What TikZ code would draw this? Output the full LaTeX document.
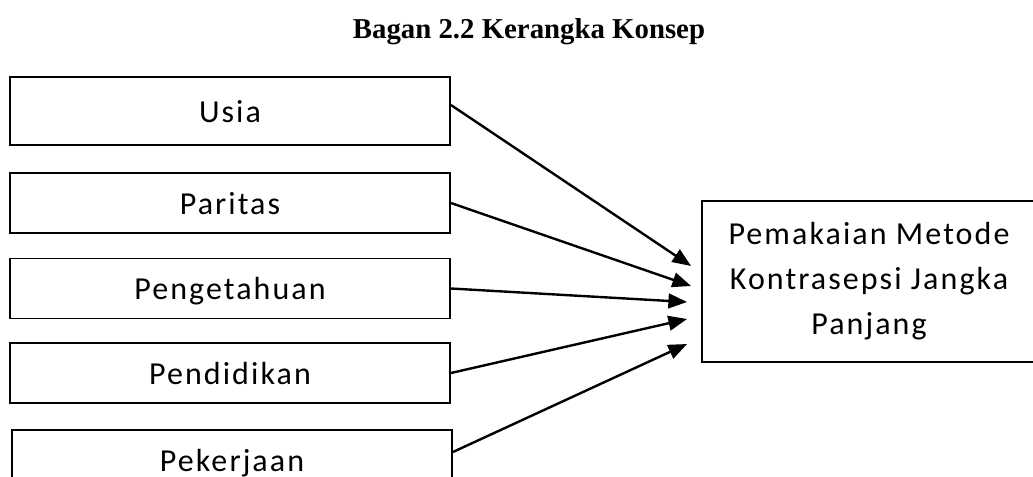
\documentclass[tikz,border=0pt]{standalone}
\usepackage{fontspec}
\setmainfont{Liberation Serif}
\newfontfamily\boxfont[LetterSpace=6.5]{Carlito}
\usetikzlibrary{arrows.meta,calc}
\tikzset{
    varbox/.style={draw,line width=1.4pt,minimum width=330pt,minimum height=45pt,
        inner sep=0pt,font=\boxfont\fontsize{24}{33.75}\selectfont},
    kiri/.style={varbox,text height=16.5pt,text depth=0pt},
    panah/.style={line width=1.8pt,-{Triangle[length=14pt,width=11pt]}}
}
\begin{document}
\begin{tikzpicture}[x=0.75pt,y=-0.75pt]
        \useasboundingbox (0,0) rectangle (1033,476);
        %% Judul
        \node[font=\bfseries\fontsize{21.6}{26}\selectfont,anchor=base] (judul) at (529,38)
            {Bagan 2.2 Kerangka Konsep};
        %% Variabel bebas
        \node[kiri,minimum height=51pt] (usia) at (230,111) {Usia};
        \node[kiri] (paritas) at (230,203) {Paritas};
        \node[kiri] (tahu) at (230,288.5) {Pengetahuan};
        \node[kiri] (didik) at (230,373) {Pendidikan};
        \node[kiri] (kerja) at (232,460) {Pekerjaan};
        %% Variabel terikat
        \node[varbox,minimum width=250.5pt,minimum height=120.75pt,align=center] (mkjp) at (869,281.5)
            {Pemakaian Metode\\Kontrasepsi Jangka\\Panjang};
        %% Panah
        \draw[panah] ($(usia.east)+(0,-6)$) -- ($(mkjp.west)+(-10,-15.5)$);
        \draw[panah] (paritas.east) -- ($(mkjp.west)+(-10,4.5)$);
        \draw[panah] (tahu.east) -- ($(mkjp.west)+(-14,20.5)$);
        \draw[panah] (didik.east) -- ($(mkjp.west)+(-14,37.5)$);
        \draw[panah] ($(kerja.east)+(0,-8)$) -- ($(mkjp.west)+(-14,62.5)$);
    \end{tikzpicture}
\end{document}
